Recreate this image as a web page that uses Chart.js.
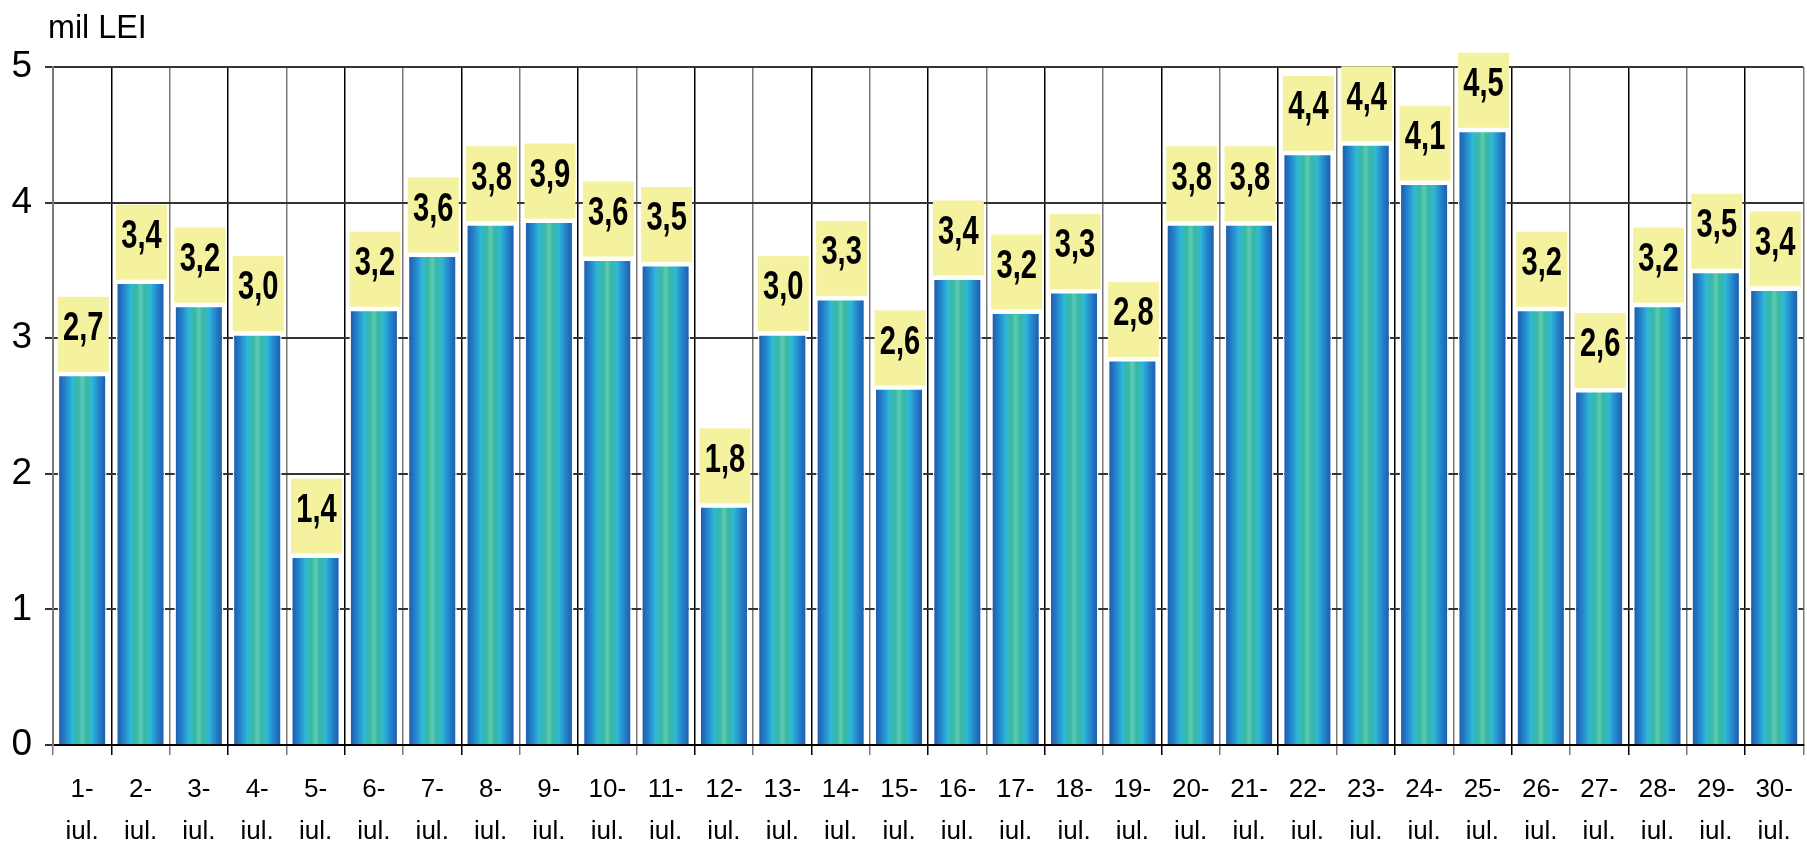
<!DOCTYPE html>
<html>
<head>
<meta charset="utf-8">
<script src="https://cdn.jsdelivr.net/npm/chart.js@4.4.1/dist/chart.umd.min.js"></script>
<style>
  html, body { margin: 0; padding: 0; background: #ffffff; }
  #wrap { position: relative; width: 1807px; height: 847px; overflow: hidden; }
  canvas { display: block; }
</style>
</head>
<body>
<div id="wrap"><canvas id="c" width="1807" height="847"></canvas></div>
<script>
// ---- data ----
const dayLabels = ['1-','2-','3-','4-','5-','6-','7-','8-','9-','10-','11-','12-','13-','14-','15-',
                   '16-','17-','18-','19-','20-','21-','22-','23-','24-','25-','26-','27-','28-','29-','30-'];
const monthLabel = 'iul.';
const values = [2.73, 3.41, 3.24, 3.03, 1.39, 3.21, 3.61, 3.84, 3.86, 3.58,
                3.54, 1.76, 3.03, 3.29, 2.63, 3.44, 3.19, 3.34, 2.84, 3.84,
                3.84, 4.36, 4.43, 4.14, 4.53, 3.21, 2.61, 3.24, 3.49, 3.36];
const yTicks = [0, 1, 2, 3, 4, 5];
const unitTitle = 'mil LEI';

const NARROW = '"Liberation Sans Narrow", "Arial Narrow", "Liberation Sans", Arial, sans-serif';
const REGULAR = '"Liberation Sans", Arial, sans-serif';

const categories = dayLabels.map(d => [d, monthLabel]);
const fmt = v => v.toFixed(1).replace('.', ',');

function barGradient(context) {
  const chart = context.chart;
  const xs = chart.scales.x;
  if (!chart.chartArea || !xs || context.dataIndex === undefined) return '#2a8fd0';
  const cx = xs.getPixelForValue(context.dataIndex);
  const half = (xs.width / dayLabels.length) * 0.84 / 2;
  const g = chart.ctx.createLinearGradient(cx - half, 0, cx + half, 0);
  g.addColorStop(0.00, '#1d55a6');
  g.addColorStop(0.16, '#2484cc');
  g.addColorStop(0.30, '#2fb8d8');
  g.addColorStop(0.42, '#3ab89c');
  g.addColorStop(0.50, '#5ccabc');
  g.addColorStop(0.58, '#3ab89c');
  g.addColorStop(0.70, '#2fb8d8');
  g.addColorStop(0.84, '#2484cc');
  g.addColorStop(1.00, '#1d55a6');
  return g;
}

function condensedText(ctx, text, x, y, font, sx) {
  ctx.save();
  ctx.translate(x, y);
  ctx.scale(sx, 1);
  ctx.font = font;
  ctx.fillText(text, 0, 0);
  ctx.restore();
}

const labelBoxes = {
  id: 'labelBoxes',
  afterDatasetsDraw(chart) {
    const ctx = chart.ctx;
    const meta = chart.getDatasetMeta(0);
    ctx.save();
    meta.data.forEach((bar, i) => {
      const w = bar.width + 2;
      const left = bar.x - bar.width / 2;
      const bottom = bar.y - 3;
      const h = 75;
      ctx.fillStyle = '#f4f19f';
      ctx.fillRect(left, bottom - h, w, h);
      ctx.fillStyle = '#000000';
      ctx.textAlign = 'center';
      ctx.textBaseline = 'middle';
      condensedText(ctx, fmt(values[i]), bar.x + 1, bottom - h + 32, 'bold 41px ' + REGULAR, 0.71);
    });
    ctx.restore();
  },
  afterDraw(chart) {
    const ctx = chart.ctx;
    ctx.save();
    ctx.fillStyle = '#000000';
    ctx.textAlign = 'left';
    ctx.textBaseline = 'alphabetic';
    condensedText(ctx, unitTitle, 48, 38, '33px ' + REGULAR, 0.98);
    ctx.restore();
  }
};

new Chart(document.getElementById('c'), {
  type: 'bar',
  data: {
    labels: categories,
    datasets: [{
      data: values,
      backgroundColor: barGradient,
      borderColor: '#ffffff',
      borderWidth: 1.5,
      barPercentage: 0.84,
      categoryPercentage: 1.0
    }]
  },
  options: {
    responsive: false,
    devicePixelRatio: 1,
    animation: false,
    layout: { padding: { top: 67, right: 2, left: 0, bottom: 0 } },
    plugins: { legend: { display: false }, tooltip: { enabled: false }, title: { display: false } },
    scales: {
      x: {
        offset: true,
        grid: {
          offset: true,
          drawOnChartArea: true,
          color: ctx => (ctx.index % 2 === 1 ? '#000000' : '#7a7a7a'),
          lineWidth: 1.5,
          tickLength: 10
        },
        border: { display: true, color: '#000000', width: 2 },
        ticks: {
          color: '#000000',
          font: { family: NARROW, size: 26, lineHeight: 1.6 },
          padding: 14,
          maxRotation: 0,
          minRotation: 0,
          autoSkip: false
        },
        afterFit(scale) { scale.height = 102; }
      },
      y: {
        min: 0,
        max: 5,
        afterBuildTicks(scale) { scale.ticks = yTicks.map(v => ({ value: v })); },
        grid: { color: '#333333', lineWidth: 2, tickLength: 8 },
        border: { display: true, color: '#7a7a7a', width: 2 },
        ticks: {
          color: '#000000',
          font: { family: NARROW, size: 37 },
          padding: 13,
          callback: v => String(v)
        },
        afterFit(scale) { scale.width = 53; }
      }
    }
  },
  plugins: [labelBoxes]
});
</script>
</body>
</html>
